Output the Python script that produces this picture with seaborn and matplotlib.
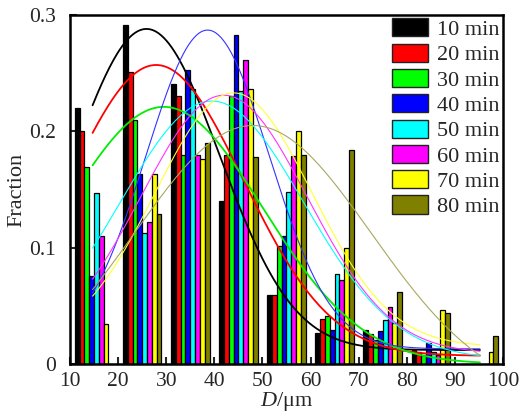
import numpy as np
import pandas as pd
import matplotlib
matplotlib.use("Agg")
import matplotlib.pyplot as plt
from matplotlib.patches import Patch
import seaborn as sns

# ---- data ----
bins = [15, 25, 35, 45, 55, 65, 75, 85, 95]
series = ["10 min", "20 min", "30 min", "40 min", "50 min", "60 min", "70 min", "80 min"]
v10 = [0.220, 0.291, 0.241, 0.140, 0.059, 0.027, 0.029, 0.012, 0.0]
v20 = [0.200, 0.251, 0.230, 0.180, 0.059, 0.039, 0.026, 0.010, 0.0]
v30 = [0.169, 0.210, 0.180, 0.230, 0.101, 0.041, 0.021, 0.008, 0.0]
v40 = [0.076, 0.163, 0.253, 0.283, 0.110, 0.029, 0.028, 0.018, 0.0]
v50 = [0.147, 0.113, 0.236, 0.235, 0.148, 0.077, 0.038, 0.010, 0.0]
v60 = [0.110, 0.122, 0.180, 0.261, 0.179, 0.072, 0.049, 0.008, 0.0]
v70 = [0.034, 0.163, 0.176, 0.236, 0.200, 0.100, 0.035, 0.046, 0.010]
v80 = [0.0, 0.129, 0.190, 0.178, 0.180, 0.184, 0.062, 0.044, 0.024]

# Gaussian fit parameters per series (centre, width, amplitude, offset)
fit_xc = [25.9, 27.9, 29.5, 38.6, 39.5, 42.0, 44.0, 48.0]
fit_w = [15.2, 18.1, 20.6, 12.8, 19.1, 17.3, 16.3, 24.6]
fit_a = [0.276, 0.250, 0.221, 0.274, 0.222, 0.222, 0.218, 0.235]
fit_y0 = [0.012, 0.007, 0.0, 0.013, 0.004, 0.009, 0.015, -0.030]
fit_range = [14.7, 95.2]

bar_colors = ["#000000", "#FF0000", "#00FF00", "#0000FF", "#00FFFF", "#FF00FF", "#FFFF00", "#808000"]
line_colors = ["#000000", "#FF0000", "#00EE00", "#3333FF", "#00FFFF", "#FF33FF", "#FFFF33", "#A8A860"]
line_widths = [1.3, 1.3, 1.3, 0.8, 0.8, 0.8, 0.8, 0.8]

values = [v10, v20, v30, v40, v50, v60, v70, v80]
rows = []
for s, vals in zip(series, values):
    for b, v in zip(bins, vals):
        rows.append({"D": b, "frac": v, "t": s})
df = pd.DataFrame(rows)

xs = np.linspace(fit_range[0], fit_range[1], 300)
lrows = []
for s, xc, w, a, y0 in zip(series, fit_xc, fit_w, fit_a, fit_y0):
    ys = y0 + a * np.exp(-((xs - xc) ** 2) / (2 * w ** 2))
    for x, y in zip(xs, ys):
        lrows.append({"D": x, "frac": y, "t": s})
dfl = pd.DataFrame(lrows)

# ---- drawing ----
sns.set_style("ticks")
plt.rcParams["font.family"] = ["Liberation Serif", "DejaVu Serif"]
plt.rcParams["mathtext.fontset"] = "custom"
plt.rcParams["mathtext.it"] = "Liberation Serif:italic"
plt.rcParams["mathtext.rm"] = "Liberation Serif"

fig = plt.figure(figsize=(5.23, 4.19), dpi=100)
ax = fig.add_axes([0.1338, 0.1313, 0.828, 0.833])

pal = dict(zip(series, bar_colors))
sns.barplot(data=df, x="D", y="frac", hue="t", hue_order=series, palette=pal,
            native_scale=True, width=0.8, dodge=True, errorbar=None,
            edgecolor="black", linewidth=0.9, saturation=1, legend=False, ax=ax)

for s, c, lw in zip(series, line_colors, line_widths):
    sub = dfl[dfl["t"] == s]
    sns.lineplot(data=sub, x="D", y="frac", color=c, linewidth=lw, ax=ax,
                 legend=False, errorbar=None, sort=False)

ax.set_xlim(10, 100)
ax.set_ylim(0, 0.3)
ax.set_xticks(range(10, 101, 10))
ax.set_yticks([0, 0.1, 0.2, 0.3])
ax.set_yticklabels(["0", "0.1", "0.2", "0.3"])
ax.tick_params(direction="in", length=5, width=1.5, labelsize=15.5,
               top=False, right=False)
ax.tick_params(axis="x", pad=6)
ax.tick_params(axis="y", pad=10)
for sp in ax.spines.values():
    sp.set_linewidth(1.8)
    sp.set_color("black")
    sp.set_visible(True)

ax.set_xlabel(r"$D$/μm", fontsize=16, labelpad=-1)
ax.set_ylabel("Fraction", fontsize=16, labelpad=2)

handles = [Patch(facecolor=c, edgecolor="#222222", linewidth=1.0) for c in bar_colors]
leg = ax.legend(handles, series, loc="upper right", frameon=False, fontsize=16,
                handlelength=1.65, handleheight=0.88, labelspacing=0.16,
                handletextpad=0.4, borderaxespad=0.1, borderpad=0.05)

fig.savefig("out.png", dpi=100)
